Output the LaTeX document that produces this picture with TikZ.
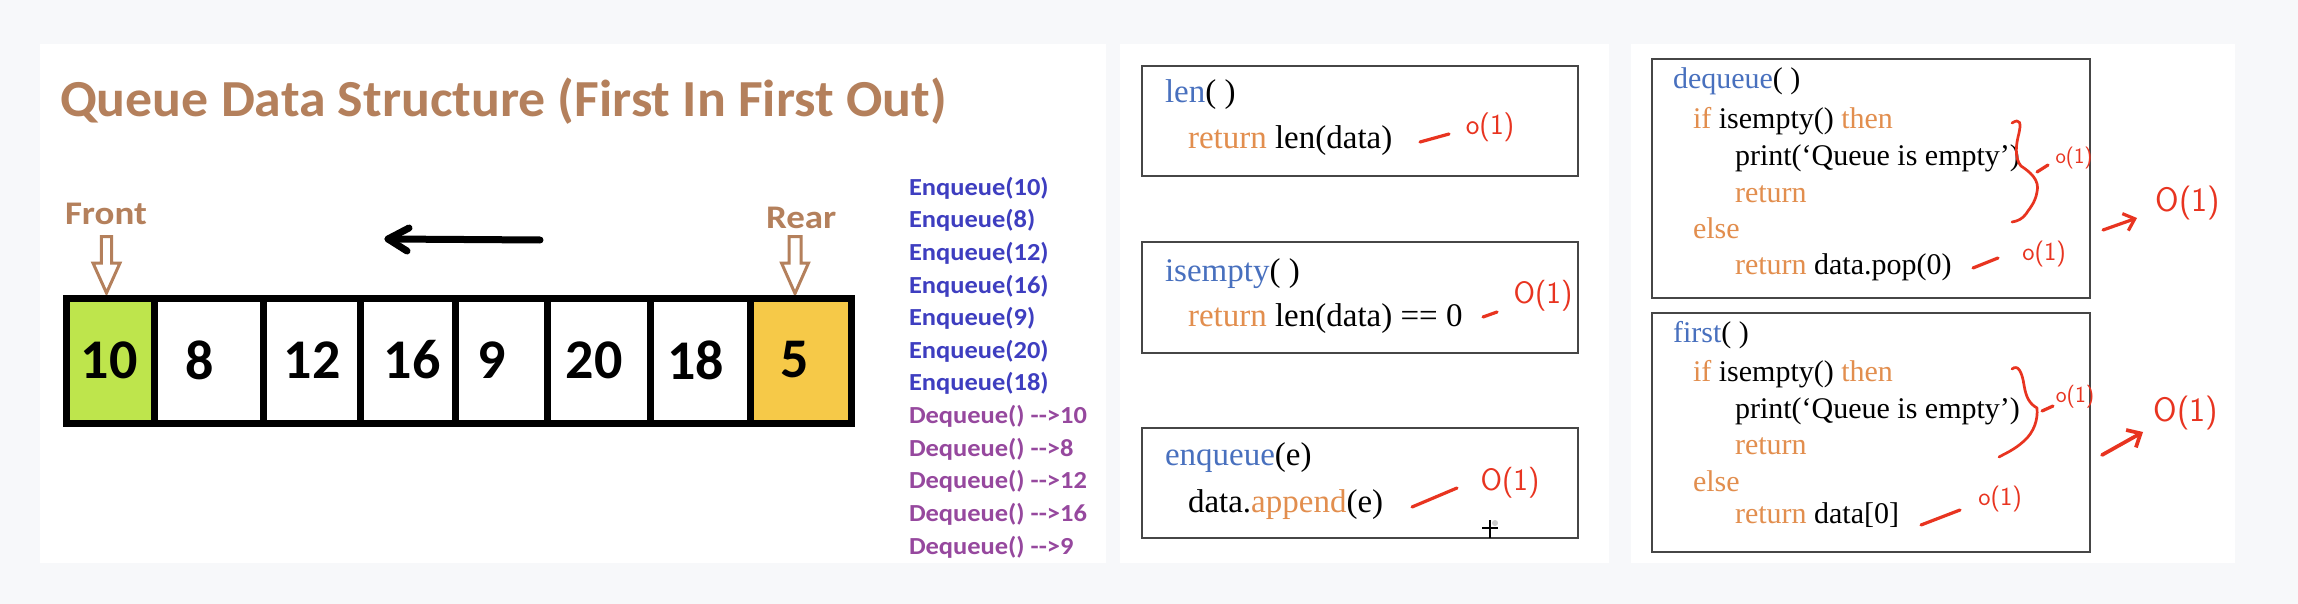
\documentclass[tikz,border=0pt]{standalone}
\usepackage{fontspec}
\setmainfont{Liberation Serif}
\newfontfamily\calfont{Carlito}
\usetikzlibrary{arrows.meta}
\definecolor{bgc}{RGB}{247,248,250}
\definecolor{brownc}{RGB}{180,128,92}
\definecolor{limec}{RGB}{190,229,76}
\definecolor{goldc}{RGB}{246,201,72}
\definecolor{enqc}{RGB}{62,62,192}
\definecolor{deqc}{RGB}{150,72,158}
\definecolor{fnblue}{RGB}{72,112,190}
\definecolor{kwor}{RGB}{226,142,78}
\definecolor{boxgray}{RGB}{70,70,70}
\definecolor{inkred}{RGB}{232,52,32}
\newcommand{\hs}[2]{\scalebox{#1}[1]{#2}}
\newcommand{\kw}[1]{\textcolor{kwor}{#1}}
\newcommand{\fn}[1]{\textcolor{fnblue}{#1}}
\begin{document}
\begin{tikzpicture}[x=1pt,y={(0pt,-1pt)},
  every node/.style={inner sep=0pt, outer sep=0pt},
  cell/.style={draw=black, line width=7pt, minimum height=125pt},
  num/.style={font=\calfont\bfseries\fontsize{56}{56}\selectfont},
  lbl/.style={text=brownc, anchor=base west, font=\calfont\bfseries\fontsize{33}{33}\selectfont},
  hollow/.style={draw=brownc, line width=3pt, fill=white, line join=miter},
  blkarrow/.style={draw=black, line width=7pt, line cap=round, line join=round},
  enq/.style={anchor=west, text=enqc, font=\calfont\bfseries\fontsize{24.5}{24.5}\selectfont},
  deq/.style={anchor=west, text=deqc, font=\calfont\bfseries\fontsize{24.5}{24.5}\selectfont},
  codebox/.style={draw=boxgray, line width=2pt, anchor=north west},
  codeA/.style={anchor=base west, font=\fontsize{33}{33}\selectfont},
  codeB/.style={anchor=base west, font=\fontsize{30}{30}\selectfont},
  redline/.style={draw=inkred, line width=3.2pt, line cap=round, line join=round},
  redtxt/.style={text=inkred, font=\sffamily}
]
\useasboundingbox (0,0) rectangle (2298,604);
\fill[bgc] (0,0) rectangle (2298,604);
\fill[white] (40,44) rectangle (1106,563);
\fill[white] (1120,44) rectangle (1609,563);
\fill[white] (1631,44) rectangle (2235,563);

% ---------- panel 1 ----------
\node[anchor=base west, text=brownc, font=\calfont\bfseries\fontsize{52}{52}\selectfont] (title) at (60,117)
  {\hs{1.035}{Queue Data Structure (First In First Out)}};

\node[lbl] (front) at (65,224) {\hs{1.12}{Front}};
\node[lbl] (rear) at (766,228) {\hs{1.12}{Rear}};

\draw[hollow] (101.3,236.5) -- (111.7,236.5) -- (111.7,263) -- (120,263) -- (106.5,293) -- (93,263) -- (101.3,263) -- cycle;
\draw[hollow] (789,236.5) -- (801,236.5) -- (801,263) -- (808.5,263) -- (795,293.5) -- (781.5,263) -- (789,263) -- cycle;

\coordinate (ba1) at (540,240);
\coordinate (ba2) at (388,239);
\draw[blkarrow] (ba1) -- (ba2);
\draw[blkarrow] (409,228) -- (ba2) -- (407,251);

\node[cell, fill=limec, minimum width=87.5pt] (c1) at (110.25,360.5) {};
\node[cell, fill=white, minimum width=109pt] (c2) at (208.5,360.5) {};
\node[cell, fill=white, minimum width=97pt] (c3) at (311.5,360.5) {};
\node[cell, fill=white, minimum width=95pt] (c4) at (407.5,360.5) {};
\node[cell, fill=white, minimum width=92pt] (c5) at (501,360.5) {};
\node[cell, fill=white, minimum width=103pt] (c6) at (598.5,360.5) {};
\node[cell, fill=white, minimum width=100pt] (c7) at (700,360.5) {};
\node[cell, fill=goldc, minimum width=101pt] (c8) at (800.5,360.5) {};

\node[num] (n1) at (109,360) {10};
\node[num] (n2) at (200,360) {8};
\node[num] (n3) at (312,360) {12};
\node[num] (n4) at (412,360) {16};
\node[num] (n5) at (492,360) {9};
\node[num] (n6) at (594,360) {20};
\node[num] (n7) at (695.5,360) {18};
\node[num] (n8) at (795,360) {5};

\node[enq] (e1) at (909,188) {\hs{1.08}{Enqueue(10)}};
\node[enq] (e2) at (909,220.6) {\hs{1.08}{Enqueue(8)}};
\node[enq] (e3) at (909,253.3) {\hs{1.08}{Enqueue(12)}};
\node[enq] (e4) at (909,285.9) {\hs{1.08}{Enqueue(16)}};
\node[enq] (e5) at (909,318.6) {\hs{1.08}{Enqueue(9)}};
\node[enq] (e6) at (909,351.2) {\hs{1.08}{Enqueue(20)}};
\node[enq] (e7) at (909,383.8) {\hs{1.08}{Enqueue(18)}};
\node[deq] (d1) at (909,416.5) {\hs{1.08}{Dequeue() -->10}};
\node[deq] (d2) at (909,449.1) {\hs{1.08}{Dequeue() -->8}};
\node[deq] (d3) at (909,481.8) {\hs{1.08}{Dequeue() -->12}};
\node[deq] (d4) at (909,514.4) {\hs{1.08}{Dequeue() -->16}};
\node[deq] (d5) at (909,547) {\hs{1.08}{Dequeue() -->9}};

% ---------- panel 2 ----------
\node[codebox, minimum width=436pt, minimum height=110pt] (b1) at (1142,66) {};
\node[codebox, minimum width=436pt, minimum height=111pt] (b2) at (1142,242) {};
\node[codebox, minimum width=436pt, minimum height=110pt] (b3) at (1142,428) {};

\node[codeA] (t11) at (1165,103) {\fn{len}( )};
\node[codeA] (t12) at (1188,149) {\kw{return} len(data)};
\node[codeA] (t21) at (1165,281) {\fn{isempty}( )};
\node[codeA] (t22) at (1188,326) {\kw{return} len(data) == 0};
\node[codeA] (t31) at (1165,465) {\fn{enqueue}(e)};
\node[codeA] (t32) at (1188,512) {data.\kw{append}(e)};

\coordinate (r1a) at (1420,142); \coordinate (r1b) at (1449,134);
\draw[redline] (r1a) -- (r1b);
\node[redtxt, font=\sffamily\fontsize{29}{29}\selectfont] (o1) at (1490,127) {o(1)};
\coordinate (r2a) at (1483,317); \coordinate (r2b) at (1497,312);
\draw[redline] (r2a) -- (r2b);
\node[redtxt, font=\sffamily\fontsize{31}{31}\selectfont] (o2) at (1543,296) {O(1)};
\coordinate (r3a) at (1412,507); \coordinate (r3b) at (1457,488);
\draw[redline] (r3a) -- (r3b);
\node[redtxt, font=\sffamily\fontsize{31}{31}\selectfont] (o3) at (1510,483) {O(1)};

\coordinate (cur) at (1490,528);
\draw[black, line width=1.5pt] (1482,528) -- (1498,528) (1490,520) -- (1490,538);
\fill[gray!40] (1495,523) circle (3pt);

% ---------- panel 3 ----------
\node[codebox, minimum width=438pt, minimum height=239pt] (b4) at (1652,59) {};
\node[codebox, minimum width=438pt, minimum height=239pt] (b5) at (1652,313) {};

\node[codeB] (u1) at (1673,89) {\fn{dequeue}( )};
\node[codeB] (u2) at (1693,129) {\kw{if} isempty() \kw{then}};
\node[codeB] (u3) at (1735,166) {print(‘Queue is empty’)};
\node[codeB] (u4) at (1735,202) {\kw{return}};
\node[codeB] (u5) at (1693,238) {\kw{else}};
\node[codeB] (u6) at (1735,274) {\kw{return} data.pop(0)};

\node[codeB] (v1) at (1673,342) {\fn{first}( )};
\node[codeB] (v2) at (1693,381) {\kw{if} isempty() \kw{then}};
\node[codeB] (v3) at (1735,418) {print(‘Queue is empty’)};
\node[codeB] (v4) at (1735,454) {\kw{return}};
\node[codeB] (v5) at (1693,491) {\kw{else}};
\node[codeB] (v6) at (1735,523) {\kw{return} data[0]};

% braces
\draw[redline, line width=2.7pt] (2012,123) .. controls (2020,118) and (2022,122) .. (2018,137)
  .. controls (2015,150) and (2016,160) .. (2021,166)
  .. controls (2030,172) and (2040,180) .. (2037,192)
  .. controls (2035,204) and (2028,210) .. (2026,214)
  .. controls (2022,219) and (2018,221) .. (2012,222);
\draw[redline, line width=2.7pt] (2012,369) .. controls (2018,364) and (2022,372) .. (2024,385)
  .. controls (2026,398) and (2030,404) .. (2037,408)
  .. controls (2038,420) and (2034,432) .. (2024,441)
  .. controls (2014,450) and (2006,453) .. (1999,457);

\coordinate (p1a) at (2037,172); \coordinate (p1b) at (2048,165);
\draw[redline] (p1a) -- (p1b);
\node[redtxt, font=\sffamily\fontsize{22}{22}\selectfont] (q1) at (2074,158) {o(1)};

\coordinate (p2a) at (1973,268); \coordinate (p2b) at (1998,258);
\draw[redline] (p2a) -- (p2b);
\node[redtxt, font=\sffamily\fontsize{26}{26}\selectfont] (q2) at (2044,254) {o(1)};

\coordinate (p3a) at (2042,411); \coordinate (p3b) at (2053,406);
\draw[redline] (p3a) -- (p3b);
\node[redtxt, font=\sffamily\fontsize{23}{23}\selectfont] (q3) at (2075,397) {o(1)};

\coordinate (p4a) at (1921,525); \coordinate (p4b) at (1960,510);
\draw[redline] (p4a) -- (p4b);
\node[redtxt, font=\sffamily\fontsize{26}{26}\selectfont] (q4) at (2000,499) {o(1)};

\node[redtxt, font=\sffamily\fontsize{34}{34}\selectfont] (big1) at (2188,203) {O(1)};
\node[redtxt, font=\sffamily\fontsize{34}{34}\selectfont] (big2) at (2186,413) {O(1)};
\coordinate (a1s) at (2103,230); \coordinate (a1e) at (2137,218);
\draw[redline, -{Straight Barb[length=10pt,width=18pt]}] (a1s) -- (a1e);
\coordinate (a2s) at (2102,455); \coordinate (a2e) at (2143,432);
\draw[redline, line width=3.7pt, -{Straight Barb[length=11pt,width=20pt]}] (a2s) -- (a2e);
\end{tikzpicture}
\end{document}
